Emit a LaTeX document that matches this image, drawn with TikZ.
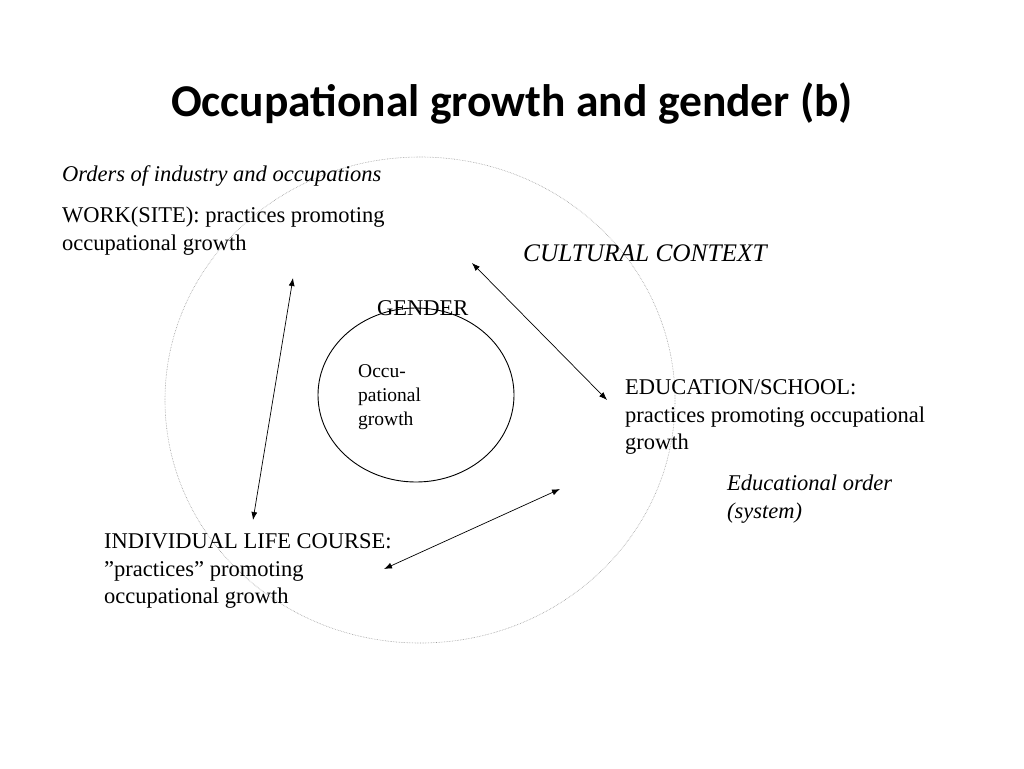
\documentclass[tikz,border=0pt]{standalone}
\usepackage{fontspec}
\setmainfont{Liberation Serif}
\newfontfamily\titlefont{Carlito}
\usetikzlibrary{arrows.meta}
\begin{document}
\begin{tikzpicture}[x=1pt,y=-1pt,
    lbl/.style={anchor=west,inner sep=0pt,align=left,font=\fontsize{22.5}{27.5}\selectfont},
    small/.style={anchor=west,inner sep=0pt,align=left,font=\fontsize{19.5}{24}\selectfont},
    link/.style={{Latex[length=8pt,width=6pt]}-{Latex[length=8pt,width=6pt]},line width=0.7pt}]
      \useasboundingbox (0,0) rectangle (1024,768);
      % circles
      \draw[gray!80,densely dotted,line width=0.6pt] (420,400) ellipse (255 and 243);
      \draw[line width=0.9pt] (416,395) ellipse (98 and 87);
      \draw
        (512,103) node (title){\titlefont\bfseries\fontsize{45.5}{54}\selectfont Occupational growth and gender (b)}
        (62,176) node[lbl] (orders){\itshape Orders of industry and occupations}
        (62,231) node[lbl] (work){WORK(SITE): practices promoting\\occupational growth}
        (523,253) node[lbl,font=\fontsize{25.3}{30}\selectfont] (culture){\itshape CULTURAL CONTEXT}
        (377,308) node[lbl] (gender){GENDER}
        (358,397) node[small] (growth){Occu-\\pational\\growth}
        (625,417) node[lbl] (school){EDUCATION/SCHOOL:\\practices promoting occupational\\growth}
        (727,499) node[lbl] (eduorder){\itshape Educational order\\\itshape (system)}
        (104,571) node[lbl] (life){INDIVIDUAL LIFE COURSE:\\”practices” promoting\\occupational growth};
      \coordinate (w1) at (293,278);
      \coordinate (w2) at (253,520);
      \coordinate (s1) at (472,263);
      \coordinate (s2) at (607,400);
      \coordinate (l1) at (560,489);
      \coordinate (l2) at (384,569);
      \begin{scope}[link]
        \draw (w1) to (w2);
        \draw (s1) to (s2);
        \draw (l1) to (l2);
      \end{scope}
\end{tikzpicture}
\end{document}
